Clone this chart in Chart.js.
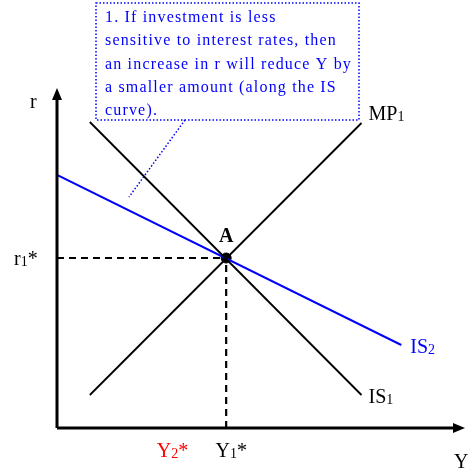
<!DOCTYPE html>
<html>
<head>
<meta charset="utf-8">
<script src="https://cdn.jsdelivr.net/npm/chart.js@4.4.1/dist/chart.umd.min.js"></script>
<style>
  html, body { margin: 0; padding: 0; background: #fff; }
  #wrap { width: 469px; height: 472px; }
</style>
</head>
<body>
<div id="wrap"><canvas id="islm"></canvas></div>
<script>
(function () {
    "use strict";

    // Curve end points (output Y, interest rate r)
    const mp1 = [[33, 33], [306, 305]];
    const is1 = [[33, 306], [306, 33]];
    const is2 = [[0, 253], [346, 83]];
    const equilibrium = [170, 170]; // Y1*, r1*
    const y2Star = 120;
    const axisMax = [408, 338];
    const noteLines = [
        "1. If investment is less",
        "sensitive to interest rates, then",
        "an increase in r will reduce Y by",
        "a smaller amount (along the IS",
        "curve).",
    ];

    const toPts = (arr) => arr.map((p) => ({ x: p[0], y: p[1] }));
    const serif = "'Liberation Serif', 'DejaVu Serif', serif";

    // Axes, labels and the note box
    const decorations = {
        id: "decorations",
        afterDatasetsDraw(chart) {
            const ctx = chart.ctx;
            const xs = chart.scales.x;
            const ys = chart.scales.y;
            const x0 = xs.getPixelForValue(0);
            const y0 = ys.getPixelForValue(0);
            const xEnd = xs.getPixelForValue(axisMax[0]);
            const yTop = ys.getPixelForValue(axisMax[1]);

            ctx.save();
            ctx.strokeStyle = "#000";
            ctx.fillStyle = "#000";
            ctx.lineWidth = 3;
            ctx.beginPath();
            ctx.moveTo(x0, y0);
            ctx.lineTo(x0, yTop + 8);
            ctx.moveTo(x0, y0);
            ctx.lineTo(xEnd - 8, y0);
            ctx.stroke();
            // arrow heads
            ctx.beginPath();
            ctx.moveTo(x0, yTop - 2);
            ctx.lineTo(x0 - 5, yTop + 10);
            ctx.lineTo(x0 + 5, yTop + 10);
            ctx.closePath();
            ctx.fill();
            ctx.beginPath();
            ctx.moveTo(xEnd + 2, y0);
            ctx.lineTo(xEnd - 10, y0 - 5);
            ctx.lineTo(xEnd - 10, y0 + 5);
            ctx.closePath();
            ctx.fill();

            const label = (main, sub, tail, x, y, color, align) => {
                ctx.fillStyle = color;
                ctx.textBaseline = "alphabetic";
                ctx.font = "20px " + serif;
                const w1 = ctx.measureText(main).width;
                ctx.font = "14px " + serif;
                const w2 = sub ? ctx.measureText(sub).width : 0;
                ctx.font = "20px " + serif;
                const w3 = tail ? ctx.measureText(tail).width : 0;
                let sx = x;
                if (align === "center") sx = x - (w1 + w2 + w3) / 2;
                ctx.textAlign = "left";
                ctx.font = "20px " + serif;
                ctx.fillText(main, sx, y);
                if (sub) {
                    ctx.font = "14px " + serif;
                    ctx.fillText(sub, sx + w1, y + 1);
                }
                if (tail) {
                    ctx.font = "20px " + serif;
                    ctx.fillText(tail, sx + w1 + w2, y);
                }
            };

            const ex = xs.getPixelForValue(equilibrium[0]);
            const ey = ys.getPixelForValue(equilibrium[1]);
            label("r", "", "", 30, yTop + 18, "#000", "left");
            label("r", "1", "*", 14, ey + 7, "#000", "left");
            label("Y", "1", "*", ex + 5, y0 + 29, "#000", "center");
            label("Y", "2", "*", xs.getPixelForValue(y2Star) - 4, y0 + 29, "#ff0000", "center");
            label("Y", "", "", xEnd - 9, y0 + 40, "#000", "left");
            label("MP", "1", "", xs.getPixelForValue(mp1[1][0]) + 7, ys.getPixelForValue(mp1[1][1]) - 3, "#000", "left");
            label("IS", "1", "", xs.getPixelForValue(is1[1][0]) + 7, ys.getPixelForValue(is1[1][1]) + 8, "#000", "left");
            label("IS", "2", "", xs.getPixelForValue(is2[1][0]) + 9, ys.getPixelForValue(is2[1][1]) + 8, "#0000ff", "left");

            ctx.font = "bold 20px " + serif;
            ctx.fillStyle = "#000";
            ctx.textAlign = "center";
            ctx.fillText("A", ex, ey - 16);

            // note box
            ctx.strokeStyle = "#0000ff";
            ctx.lineWidth = 1.5;
            ctx.setLineDash([1.5, 2]);
            ctx.strokeRect(96, 3, 263, 117);
            ctx.beginPath();
            ctx.moveTo(185, 120);
            ctx.lineTo(129, 197);
            ctx.stroke();
            ctx.setLineDash([]);
            ctx.fillStyle = "#0000ff";
            ctx.textAlign = "left";
            ctx.font = "16px " + serif;
            // spread the letters so the longest line fills the box like the original
            const longest = noteLines[2];
            const spacing = (247 - ctx.measureText(longest).width) / longest.length;
            ctx.letterSpacing = spacing.toFixed(2) + "px";
            noteLines.forEach((t, i) => {
                ctx.fillText(t, 105, 22 + i * 23.3);
            });
            ctx.letterSpacing = "0px";
            ctx.restore();
        },
    };

    const ctx = document.getElementById("islm").getContext("2d");
    new Chart(ctx, {
        type: "scatter",
        data: {
            datasets: [
                {
                    label: "MP1",
                    data: toPts(mp1),
                    showLine: true,
                    borderColor: "#000",
                    borderWidth: 1.8,
                    pointRadius: 0,
                },
                {
                    label: "IS1",
                    data: toPts(is1),
                    showLine: true,
                    borderColor: "#000",
                    borderWidth: 1.8,
                    pointRadius: 0,
                },
                {
                    label: "IS2",
                    data: toPts(is2),
                    showLine: true,
                    borderColor: "#0000ff",
                    borderWidth: 2,
                    pointRadius: 0,
                },
                {
                    label: "r1*",
                    data: [{ x: 0, y: equilibrium[1] }, { x: equilibrium[0], y: equilibrium[1] }],
                    showLine: true,
                    borderColor: "#000",
                    borderWidth: 2,
                    borderDash: [7, 5],
                    pointRadius: 0,
                },
                {
                    label: "Y1*",
                    data: [{ x: equilibrium[0], y: 0 }, { x: equilibrium[0], y: equilibrium[1] }],
                    showLine: true,
                    borderColor: "#000",
                    borderWidth: 2.2,
                    borderDash: [7, 5],
                    pointRadius: 0,
                },
                {
                    label: "A",
                    data: [{ x: equilibrium[0], y: equilibrium[1] }],
                    pointRadius: 5,
                    backgroundColor: "#000",
                    borderColor: "#000",
                },
            ],
        },
        options: {
            responsive: true,
            maintainAspectRatio: false,
            animation: false,
            layout: { padding: { left: 57, right: 4, top: 90, bottom: 44 } },
            plugins: {
                legend: { display: false },
                tooltip: { enabled: false },
            },
            scales: {
                x: { type: "linear", display: false, min: 0, max: axisMax[0] },
                y: { type: "linear", display: false, min: 0, max: axisMax[1] },
            },
        },
        plugins: [decorations],
    });
})();
</script>
</body>
</html>
